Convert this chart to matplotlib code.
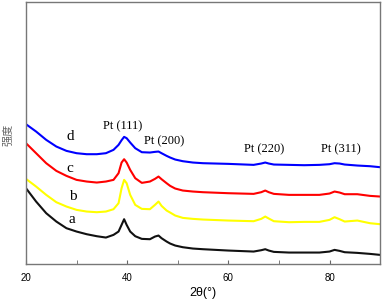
import matplotlib
matplotlib.use("Agg")
import matplotlib.pyplot as plt

# 2theta positions (degrees)
two_theta = [20, 22, 24, 26, 28, 30, 32, 34, 35.8, 37.3, 38.3, 38.9, 39.4, 39.9, 40.6, 41.6,
             42.9, 44.5, 45.5, 46.2, 46.8, 47.8, 48.5, 49.5, 51, 53, 55, 60, 65, 66.5, 67.3,
             68, 69, 72, 75, 78, 80, 81, 82, 83, 85.5, 88, 90]

# intensities (arbitrary units, offset stacked)
int_a = [228, 188, 153, 128, 108, 98, 90, 84, 80, 88, 98, 118, 135, 118, 98, 84,
         76, 75, 83, 86, 78, 68, 62, 56, 51, 47, 45, 41, 38, 42, 45,
         41, 37, 35, 35, 35, 38, 43, 40, 36, 34, 31, 28]
int_b = [256, 233, 208, 186, 173, 163, 158, 156, 158, 165, 183, 228, 253, 243, 208, 178,
         166, 165, 178, 188, 175, 161, 155, 146, 139, 136, 134, 131, 129, 136, 143,
         137, 129, 126, 127, 127, 133, 141, 135, 128, 131, 123, 120]
int_c = [363, 333, 303, 280, 265, 253, 248, 245, 248, 253, 273, 305, 315, 305, 283, 258,
         244, 248, 256, 263, 255, 243, 235, 227, 221, 218, 216, 213, 211, 216, 221,
         216, 211, 208, 208, 208, 212, 218, 215, 210, 210, 205, 203]
int_d = [420, 398, 373, 353, 340, 333, 330, 330, 333, 343, 358, 372, 382, 378, 365, 348,
         336, 335, 337, 338, 333, 325, 320, 314, 309, 305, 303, 301, 298, 302, 305,
         302, 299, 298, 297, 298, 300, 303, 302, 299, 296, 294, 291]

series_labels = ["a", "b", "c", "d"]
series_colors = ["#111111", "#ffff00", "#ff0000", "#0000ff"]
label_pos_x = [29.0, 29.2, 28.7, 28.7]
label_pos_y = [133, 203, 288, 383]

peak_labels = ["Pt (111)", "Pt (200)", "Pt (220)", "Pt (311)"]
peak_x = [39.05, 47.4, 67.1, 82.3]
peak_y = [413, 368, 346, 346]

fig = plt.figure(figsize=(3.82, 3.03), dpi=100)
ax = fig.add_axes([0.068, 0.128, 0.927, 0.867])

for ys, c in zip([int_a, int_b, int_c, int_d], series_colors):
    ax.plot(two_theta, ys, color=c, lw=1.5, solid_joinstyle="round")

for lab, x, y in zip(series_labels, label_pos_x, label_pos_y):
    ax.text(x, y, lab, fontsize=11, family="Liberation Serif", ha="center", va="center")

for lab, x, y in zip(peak_labels, peak_x, peak_y):
    ax.text(x, y, lab, fontsize=9, family="Liberation Serif", ha="center", va="center")

ax.set_xlim(20, 90)
ax.set_ylim(0, 788)
ax.set_xticks([20, 40, 60, 80])
ax.set_xticks([30, 50, 70], minor=True)
ax.set_yticks([])
ax.tick_params(axis="x", which="both", direction="in", length=3, color="#666666",
               labelsize=7, pad=6)
for lbl in ax.get_xticklabels():
    lbl.set_family("Liberation Sans")
for s in ax.spines.values():
    s.set_color("#777777")
    s.set_linewidth(1.0)

ax.set_xlabel("2θ(°)", fontsize=9, family="Liberation Sans", labelpad=3)
fig.text(0.022, 0.555, "强度", rotation=90, fontsize=8, family="Noto Sans CJK SC",
         color="#666666", ha="center", va="center")

fig.savefig("out.png", dpi=100)
